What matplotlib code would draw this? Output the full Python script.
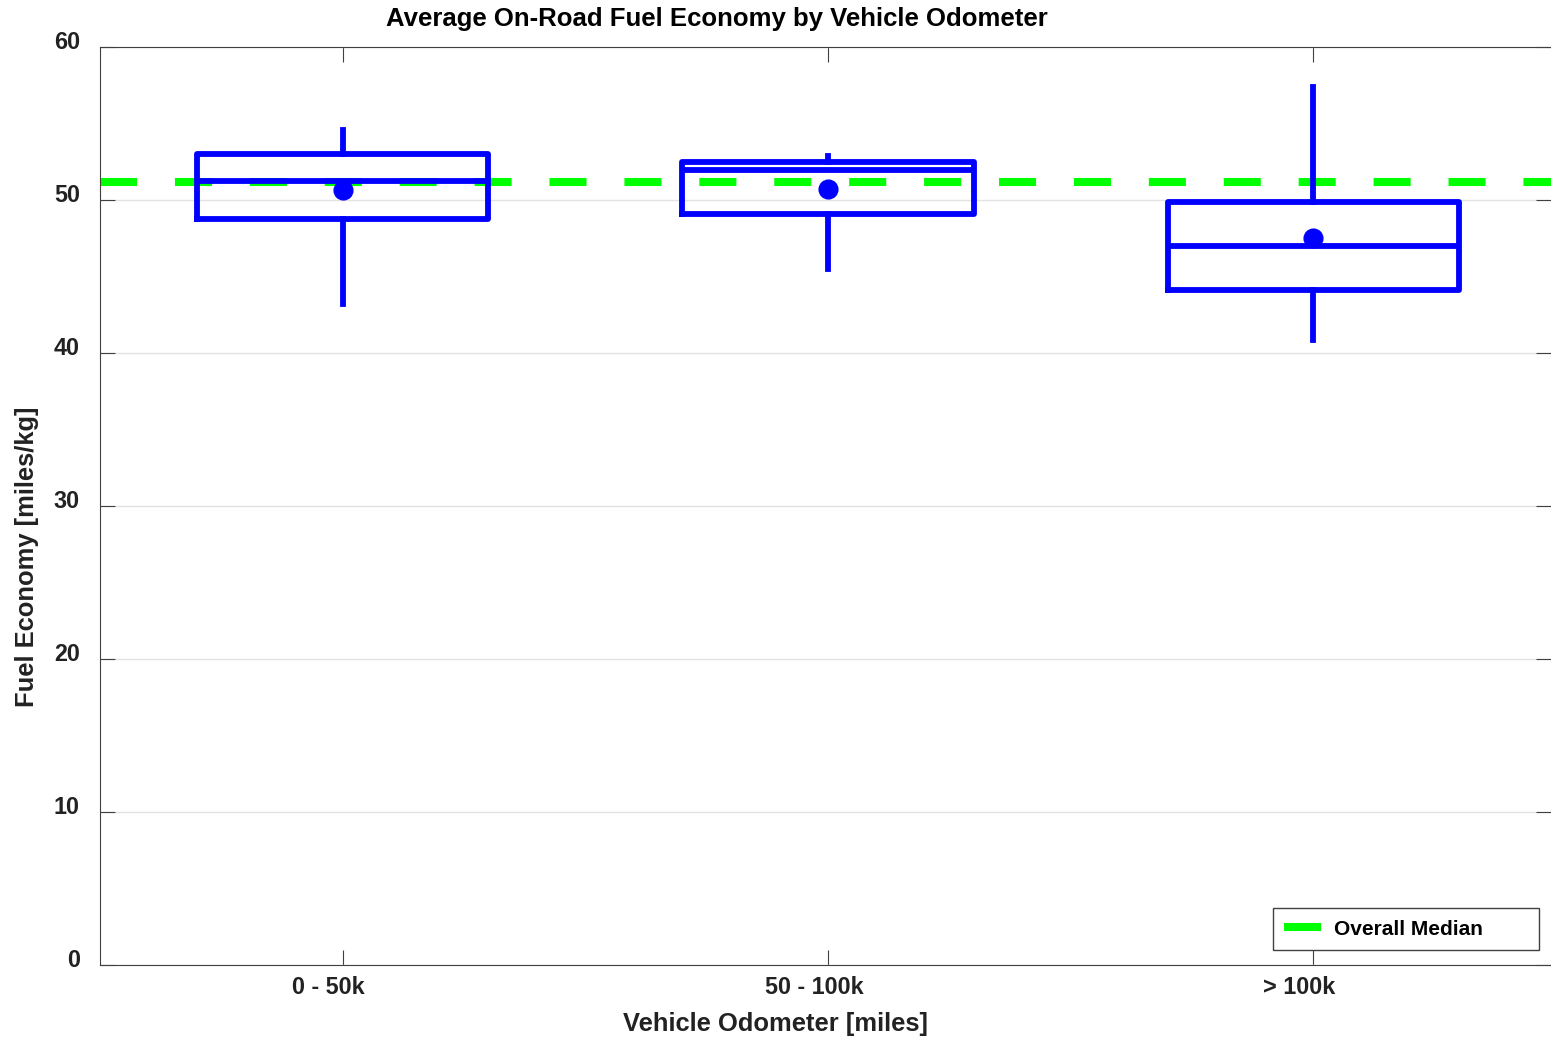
import matplotlib
matplotlib.use('Agg')
import matplotlib.pyplot as plt
import matplotlib.transforms as mtransforms

plt.rcParams['font.family'] = ['Liberation Sans', 'DejaVu Sans']
plt.rcParams['font.weight'] = 'bold'

# values
categories = ['0 - 50k', '50 - 100k', '> 100k']
whisker_low = [43.2, 45.5, 40.85]
q1 = [48.75, 49.1, 44.1]
medians = [51.25, 51.95, 47.0]
q3 = [53.0, 52.5, 49.85]
whisker_high = [54.6, 52.9, 57.4]
means = [50.65, 50.7, 47.5]
overall_median = 51.2

blue = '#0000ff'
green = '#00ff00'

fig = plt.figure(figsize=(15.51, 10.38), dpi=100)
ax = fig.add_axes([100 / 1551, 1 - 965 / 1038, 1 - 100 / 1551, (965 - 47) / 1038])

stats = []
for i in range(len(categories)):
    stats.append({'label': categories[i], 'whislo': whisker_low[i], 'q1': q1[i],
                  'med': medians[i], 'q3': q3[i], 'whishi': whisker_high[i],
                  'mean': means[i], 'fliers': []})

positions = list(range(1, len(categories) + 1))
line_w = 4.2
ax.bxp(stats, positions=positions, widths=0.6, showcaps=False, showmeans=True,
       showfliers=False,
       boxprops=dict(color=blue, linewidth=line_w),
       whiskerprops=dict(color=blue, linewidth=line_w),
       medianprops=dict(color=blue, linewidth=line_w),
       meanprops=dict(marker='o', markerfacecolor=blue, markeredgecolor=blue,
                      markersize=13.5),
       zorder=3)

# dashes ~37px on / 38px off
ax.axhline(overall_median, color=green, linewidth=5.8, dashes=(4.6, 4.7),
           label='Overall Median', zorder=2)

ax.set_xlim(0.5, 3.49)
ax.set_ylim(0, 60)
ax.set_yticks(range(0, 61, 10))
ax.set_xticks(positions)
ax.set_xticklabels(categories)
ax.grid(axis='y', color='#e3e3e3', linewidth=1)
ax.set_axisbelow(True)
ax.spines['right'].set_visible(False)
for s in ['left', 'top', 'bottom']:
    ax.spines[s].set_color('#404040')
ax.tick_params(direction='in', length=11, color='#404040', top=True, right=True,
               labelsize=16.8, labelcolor='#222222')
ax.tick_params(axis='y', pad=14.5)
ax.tick_params(axis='x', pad=8)

# shift tick labels like the reference
for lab in ax.get_yticklabels():
    lab.set_transform(lab.get_transform() + mtransforms.ScaledTranslation(0, 7 / 100, fig.dpi_scale_trans))
for lab in ax.get_xticklabels():
    lab.set_transform(lab.get_transform() + mtransforms.ScaledTranslation(-14 / 100, 0, fig.dpi_scale_trans))

fig.text(717 / 1551, 1 - 19 / 1038, 'Average On-Road Fuel Economy by Vehicle Odometer',
         ha='center', va='center', fontsize=18.5, fontweight='bold')
fig.text(775 / 1551, 1 - 1024 / 1038, 'Vehicle Odometer [miles]',
         ha='center', va='center', fontsize=18.4, fontweight='bold', color='#222222')
fig.text(27 / 1551, 1 - 557 / 1038, 'Fuel Economy [miles/kg]', rotation=90,
         ha='center', va='center', fontsize=18.4, fontweight='bold', color='#222222')

leg = ax.legend(loc='lower left', bbox_to_anchor=(1273 / 1551, 1 - 950 / 1038, 266 / 1551, 40 / 1038),
                bbox_transform=fig.transFigure, mode='expand', fancybox=False,
                framealpha=1, edgecolor='#404040', fontsize=15, handlelength=1.8,
                handletextpad=0.6, borderpad=0.55, borderaxespad=0)
leg.get_frame().set_linewidth(1)

fig.savefig('out.png', dpi=100)
